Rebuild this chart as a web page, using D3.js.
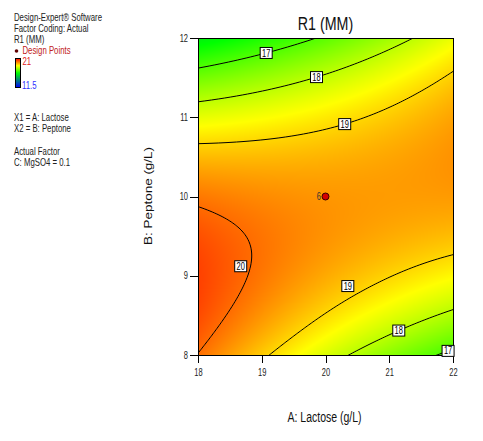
<!DOCTYPE html>
<html><head><meta charset="utf-8">
<script src="https://cdn.jsdelivr.net/npm/d3@7"></script>
<style>html,body{margin:0;padding:0;background:#fff;} svg{display:block;}</style>
</head><body>
<script>
// ---- data ----
const lactose = [18, 19, 20, 21, 22];          // A: Lactose (g/L) ticks
const peptone = [8, 9, 10, 11, 12];            // B: Peptone (g/L) ticks
// R1 (MM) read at each tick intersection, rows = peptone 8..12, cols = lactose 18..22
const r1Rows = [
  [19.98, 19.10, 18.28, 17.53, 16.83],
  [20.41, 19.89, 19.42, 19.02, 18.67],
  [19.88, 19.71, 19.60, 19.55, 19.56],
  [18.40, 18.58, 18.82, 19.12, 19.48],
  [15.96, 16.50, 17.09, 17.74, 18.45]
];
const contourLevels = [17, 18, 19, 20];
const labelLevels = [17, 18, 19, 20, 19, 18, 17];
const labelLactose = [19.05, 19.85, 20.31, 18.67, 20.35, 21.11, 21.91];
const labelPeptone = [11.87, 11.53, 10.89, 9.12, 8.87, 8.38, 8.08];
const pointLactose = [20];
const pointPeptone = [10];
const pointCount = [6];
const legendRange = [21, 11.5];
const infoTop = ["Design-Expert\u00AE Software", "Factor Coding: Actual", "R1 (MM)"];
const infoFactors = ["X1 = A: Lactose", "X2 = B: Peptone"];
const infoActual = ["Actual Factor", "C: MgSO4 = 0.1"];
const titleText = "R1 (MM)";
const xTitle = "A: Lactose (g/L)";
const yTitle = "B: Peptone (g/L)";

// ---- layout ----
const W = 483, H = 441;
const M = {left: 198, right: 453, top: 38, bottom: 355};
const FONT = "'Liberation Sans', Arial, Helvetica, sans-serif";
const SX = 0.75;

const x = d3.scaleLinear().domain([lactose[0], lactose[lactose.length-1]]).range([M.left, M.right]);
const y = d3.scaleLinear().domain([peptone[0], peptone[peptone.length-1]]).range([M.bottom, M.top]);
const lo = legendRange[1], hi = legendRange[0];
const color = d3.scaleLinear()
  .domain([lo, lo + (hi-lo)*0.5, lo + (hi-lo)*0.75, hi])
  .range(["#0000ff", "#00ff00", "#ffff00", "#ff0000"]).clamp(true);

// smooth surface through the grid (Catmull-Rom, quadratic end extrapolation)
function padArr(r){ const n=r.length; return [3*r[0]-3*r[1]+r[2], ...r, 3*r[n-1]-3*r[n-2]+r[n-3]]; }
const rowsP = r1Rows.map(padArr);
const nR = rowsP.length;
const P = [rowsP[0].map((_,i)=>3*rowsP[0][i]-3*rowsP[1][i]+rowsP[2][i]), ...rowsP,
           rowsP[0].map((_,i)=>3*rowsP[nR-1][i]-3*rowsP[nR-2][i]+rowsP[nR-3][i])];
function cr(p0,p1,p2,p3,t){ return 0.5*(2*p1 + (p2-p0)*t + (2*p0-5*p1+4*p2-p3)*t*t + (3*p1-p0-3*p2+p3)*t*t*t); }
const ua = d3.scaleLinear().domain(x.domain()).range([0, lactose.length-1]);
const vb = d3.scaleLinear().domain(y.domain()).range([0, peptone.length-1]);
function surf(a, b){
  const u = ua(a), v = vb(b);
  const iu = Math.max(0, Math.min(lactose.length-2, Math.floor(u)));
  const iv = Math.max(0, Math.min(peptone.length-2, Math.floor(v)));
  const tu = u-iu, tv = v-iv;
  const c = [];
  for (let k=0;k<4;k++){ const r = P[iv+k]; c.push(cr(r[iu], r[iu+1], r[iu+2], r[iu+3], tu)); }
  return cr(c[0], c[1], c[2], c[3], tv);
}
const fpx = (px, py) => surf(x.invert(px), y.invert(py));

const svg = d3.select("body").append("svg").attr("width", W).attr("height", H)
  .attr("font-family", FONT);

function txt(g, px, py, s, size, fill, anchor, sx){
  return g.append("text").attr("transform", `translate(${px},${py}) scale(${sx || SX},1)`)
    .attr("font-size", size).attr("fill", fill || "#222").attr("text-anchor", anchor || "start").text(s);
}

// ---- surface image ----
const pw = M.right - M.left, ph = M.bottom - M.top;
const cv = document.createElement("canvas"); cv.width = pw; cv.height = ph;
const ctx = cv.getContext("2d"); const im = ctx.createImageData(pw, ph);
for (let j=0;j<ph;j++) for (let i=0;i<pw;i++){
  const c = d3.rgb(color(fpx(M.left+i+0.5, M.top+j+0.5)));
  const k = (j*pw+i)*4; im.data[k]=c.r; im.data[k+1]=c.g; im.data[k+2]=c.b; im.data[k+3]=255;
}
ctx.putImageData(im, 0, 0);
svg.append("image").attr("x", M.left).attr("y", M.top).attr("width", pw).attr("height", ph)
  .attr("preserveAspectRatio", "none").attr("href", cv.toDataURL());

// ---- contours ----
svg.append("clipPath").attr("id", "plotclip").append("rect")
  .attr("x", M.left).attr("y", M.top).attr("width", pw).attr("height", ph);
const pad = 2, nx = pw + 2*pad + 1, ny = ph + 2*pad + 1;
const vals = new Float64Array(nx*ny);
for (let j=0;j<ny;j++) for (let i=0;i<nx;i++) vals[j*nx+i] = fpx(M.left+i-pad, M.top+j-pad);
const cont = d3.contours().size([nx, ny]).thresholds(contourLevels)(vals);
const gp = d3.geoPath(d3.geoTransform({point(px, py){ this.stream.point(M.left+px-0.5-pad, M.top+py-0.5-pad); }}));
svg.append("g").attr("clip-path", "url(#plotclip)").selectAll("path").data(cont).join("path")
  .attr("d", gp).attr("fill", "none").attr("stroke", "#000").attr("stroke-width", 1);

// ---- frame & axes ----
svg.append("rect").attr("x", M.left).attr("y", M.top).attr("width", pw).attr("height", ph)
  .attr("fill", "none").attr("stroke", "#000").attr("stroke-width", 1).attr("shape-rendering", "crispEdges");

const gx = svg.append("g").attr("transform", `translate(0,${M.bottom})`)
  .call(d3.axisBottom(x).tickValues(lactose).tickSize(8).tickPadding(6).tickFormat(d3.format("d")));
gx.select(".domain").remove();
gx.attr("font-family", FONT).attr("font-size", 10);
gx.selectAll("line").attr("shape-rendering", "crispEdges");
gx.selectAll("text").attr("transform", `scale(${SX},1)`).attr("fill", "#222");

const gy = svg.append("g").attr("transform", `translate(${M.left},0)`)
  .call(d3.axisLeft(y).tickValues(peptone).tickSize(8).tickPadding(2).tickFormat(d3.format("d")));
gy.select(".domain").remove();
gy.attr("font-family", FONT).attr("font-size", 10);
gy.selectAll("line").attr("shape-rendering", "crispEdges");
gy.selectAll("text").attr("x", -10/SX).attr("transform", `scale(${SX},1)`).attr("fill", "#222");

// ---- contour labels (snapped onto their line) ----
const lg = svg.append("g");
labelLevels.forEach((lev, idx) => {
  let px = x(labelLactose[idx]), py = y(labelPeptone[idx]);
  for (let k=0;k<8;k++){
    const f = fpx(px, py) - lev;
    const ddx = fpx(px+0.5, py) - fpx(px-0.5, py), ddy = fpx(px, py+0.5) - fpx(px, py-0.5);
    const g2 = ddx*ddx + ddy*ddy; if (g2 < 1e-12) break;
    const nxp = px - f*ddx/g2, nyp = py - f*ddy/g2;
    if (Math.hypot(nxp - x(labelLactose[idx]), nyp - y(labelPeptone[idx])) > 8) break;
    px = nxp; py = nyp;
  }
  lg.append("rect").attr("x", px-6).attr("y", py-5.5).attr("width", 12).attr("height", 11)
    .attr("fill", "#fff").attr("stroke", "#000").attr("stroke-width", 1);
  txt(lg, px, py+3.6, String(lev), 10, "#000", "middle");
});

// ---- design points ----
const dg = svg.append("g");
pointLactose.forEach((a, i) => {
  const px = x(a), py = y(pointPeptone[i]);
  dg.append("circle").attr("cx", px).attr("cy", py).attr("r", 3.5)
    .attr("fill", "#d40000").attr("stroke", "#3a0000").attr("stroke-width", 1);
  txt(dg, px-4.5, py+3, String(pointCount[i]), 10, "#333", "end");
});

// ---- titles ----
txt(svg, (M.left+M.right)/2, 30, titleText, 19, "#111", "middle");
txt(svg, (M.left+M.right)/2 - 1, 422, xTitle, 14, "#111", "middle");
svg.append("text").attr("transform", `translate(152,196) rotate(-90) scale(1,${SX})`)
  .attr("font-size", 13.5).attr("fill", "#111").attr("text-anchor", "middle").text(yTitle);

// ---- info panel ----
const ig = svg.append("g");
const ISX = 0.78;
infoTop.forEach((s, i) => txt(ig, 14, 21 + i*11, s, 10, "#222", "start", ISX));
ig.append("circle").attr("cx", 16.5).attr("cy", 51).attr("r", 1.8).attr("fill", "#600000");
txt(ig, 22.5, 54, "Design Points", 10, "#c02020", "start", ISX);
const grad = svg.append("defs").append("linearGradient").attr("id", "lgd")
  .attr("x1", 0).attr("y1", 0).attr("x2", 0).attr("y2", 1);
d3.range(0, 1.0001, 0.125).forEach(t => grad.append("stop").attr("offset", t)
  .attr("stop-color", color(hi - (hi-lo)*t)));
ig.append("rect").attr("x", 15.5).attr("y", 58.5).attr("width", 5).attr("height", 29)
  .attr("fill", "url(#lgd)").attr("stroke", "#000").attr("stroke-width", 1);
txt(ig, 22.5, 65, String(legendRange[0]), 10, "#e02020", "start", ISX);
txt(ig, 22, 88.5, String(legendRange[1]), 10, "#3030ff", "start", ISX);
infoFactors.forEach((s, i) => txt(ig, 14, 121 + i*11, s, 10, "#222", "start", ISX));
infoActual.forEach((s, i) => txt(ig, 14, 155 + i*11, s, 10, "#222", "start", ISX));
</script>
</body></html>
